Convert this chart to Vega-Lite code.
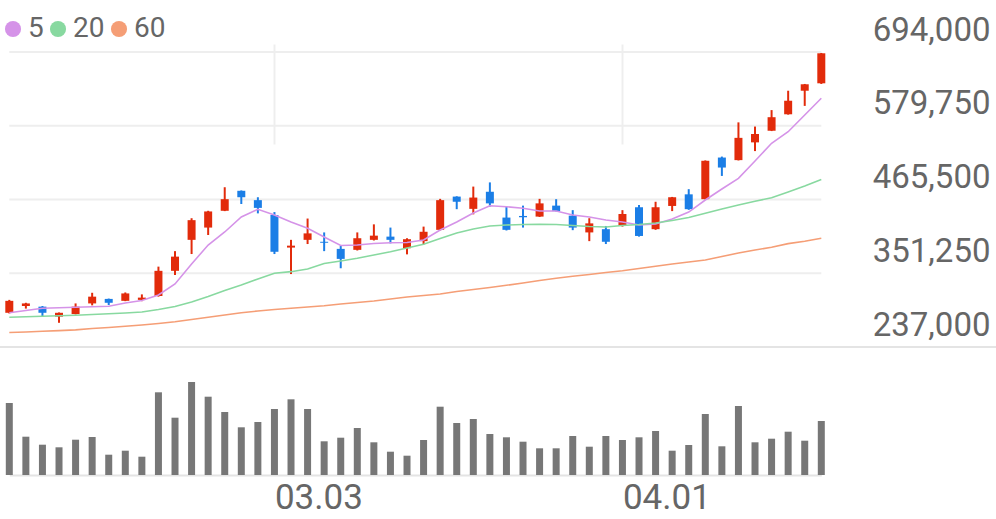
{
  "$schema": "https://vega.github.io/schema/vega-lite/v6.json",
  "width": 996,
  "height": 519,
  "autosize": {"type": "none"},
  "padding": 0,
  "background": "white",
  "config": {
    "view": {"stroke": null},
    "font": "Roboto"
  },
  "datasets": {
    "candles": [
      {"date": "02.03", "open": 290000, "high": 310000, "low": 289000, "close": 308500, "volume": 720000, "ma5": 290100, "ma20": 283000, "ma60": 259500},
      {"date": "02.04", "open": 300500, "high": 305500, "low": 296500, "close": 304500, "volume": 383000, "ma5": 293500, "ma20": 283800, "ma60": 260200},
      {"date": "02.05", "open": 299500, "high": 300500, "low": 285000, "close": 290000, "volume": 303000, "ma5": 297000, "ma20": 284600, "ma60": 261300},
      {"date": "02.06", "open": 284000, "high": 290500, "low": 274500, "close": 290000, "volume": 277000, "ma5": 297700, "ma20": 285300, "ma60": 262300},
      {"date": "02.09", "open": 288000, "high": 304500, "low": 287500, "close": 299500, "volume": 353000, "ma5": 298500, "ma20": 286100, "ma60": 263600},
      {"date": "02.10", "open": 304500, "high": 321000, "low": 301500, "close": 315000, "volume": 380000, "ma5": 299300, "ma20": 287300, "ma60": 265700},
      {"date": "02.11", "open": 311500, "high": 312000, "low": 302000, "close": 305500, "volume": 203000, "ma5": 300200, "ma20": 288400, "ma60": 267200},
      {"date": "02.12", "open": 308500, "high": 321500, "low": 308000, "close": 320000, "volume": 243000, "ma5": 305200, "ma20": 289700, "ma60": 269100},
      {"date": "02.13", "open": 310000, "high": 318500, "low": 308000, "close": 313500, "volume": 183000, "ma5": 309000, "ma20": 291200, "ma60": 271100},
      {"date": "02.19", "open": 316000, "high": 361500, "low": 315000, "close": 355000, "volume": 827000, "ma5": 317600, "ma20": 295100, "ma60": 273400},
      {"date": "02.20", "open": 355000, "high": 385500, "low": 348500, "close": 377000, "volume": 573000, "ma5": 334600, "ma20": 299700, "ma60": 276000},
      {"date": "02.23", "open": 403000, "high": 436500, "low": 381000, "close": 433500, "volume": 930000, "ma5": 365600, "ma20": 306700, "ma60": 279600},
      {"date": "02.24", "open": 422000, "high": 448000, "low": 410500, "close": 447000, "volume": 783000, "ma5": 395000, "ma20": 315200, "ma60": 283000},
      {"date": "02.25", "open": 448000, "high": 484500, "low": 447500, "close": 466000, "volume": 630000, "ma5": 415200, "ma20": 324500, "ma60": 286600},
      {"date": "02.26", "open": 479000, "high": 479500, "low": 458500, "close": 469000, "volume": 477000, "ma5": 438400, "ma20": 333000, "ma60": 290000},
      {"date": "02.27", "open": 464500, "high": 469000, "low": 444000, "close": 452500, "volume": 530000, "ma5": 450300, "ma20": 342300, "ma60": 292800},
      {"date": "03.03", "open": 441500, "high": 446000, "low": 381000, "close": 384500, "volume": 660000, "ma5": 441500, "ma20": 351200, "ma60": 295100},
      {"date": "03.04", "open": 391000, "high": 403000, "low": 350000, "close": 394000, "volume": 757000, "ma5": 430600, "ma20": 353700, "ma60": 297100},
      {"date": "03.05", "open": 403000, "high": 436000, "low": 396500, "close": 413000, "volume": 660000, "ma5": 420900, "ma20": 357800, "ma60": 299000},
      {"date": "03.06", "open": 400000, "high": 414500, "low": 385500, "close": 398500, "volume": 337000, "ma5": 407400, "ma20": 366400, "ma60": 300800},
      {"date": "03.09", "open": 389000, "high": 394000, "low": 359000, "close": 373500, "volume": 373000, "ma5": 394200, "ma20": 370200, "ma60": 303600},
      {"date": "03.10", "open": 387500, "high": 414500, "low": 386500, "close": 405500, "volume": 470000, "ma5": 395000, "ma20": 374400, "ma60": 305900},
      {"date": "03.11", "open": 403000, "high": 427000, "low": 402000, "close": 409500, "volume": 327000, "ma5": 397300, "ma20": 379500, "ma60": 308300},
      {"date": "03.12", "open": 408000, "high": 422000, "low": 397500, "close": 403000, "volume": 233000, "ma5": 398600, "ma20": 384600, "ma60": 311400},
      {"date": "03.13", "open": 390000, "high": 405500, "low": 380500, "close": 404000, "volume": 193000, "ma5": 398900, "ma20": 390400, "ma60": 314500},
      {"date": "03.16", "open": 401000, "high": 423500, "low": 396000, "close": 415500, "volume": 350000, "ma5": 402800, "ma20": 396100, "ma60": 316800},
      {"date": "03.17", "open": 418500, "high": 466500, "low": 417500, "close": 464500, "volume": 683000, "ma5": 418300, "ma20": 405100, "ma60": 319100},
      {"date": "03.18", "open": 470000, "high": 470500, "low": 450500, "close": 462000, "volume": 520000, "ma5": 430600, "ma20": 413600, "ma60": 323000},
      {"date": "03.19", "open": 451000, "high": 485500, "low": 442500, "close": 468500, "volume": 560000, "ma5": 444600, "ma20": 419800, "ma60": 326100},
      {"date": "03.20", "open": 477500, "high": 492000, "low": 454500, "close": 459500, "volume": 410000, "ma5": 455900, "ma20": 424400, "ma60": 329200},
      {"date": "03.23", "open": 437500, "high": 454500, "low": 417500, "close": 418500, "volume": 377000, "ma5": 454300, "ma20": 426000, "ma60": 332600},
      {"date": "03.24", "open": 440000, "high": 456000, "low": 422000, "close": 438000, "volume": 333000, "ma5": 451900, "ma20": 426800, "ma60": 336100},
      {"date": "03.25", "open": 439000, "high": 466500, "low": 438500, "close": 459500, "volume": 267000, "ma5": 447700, "ma20": 427100, "ma60": 340000},
      {"date": "03.26", "open": 456000, "high": 466000, "low": 447000, "close": 447500, "volume": 267000, "ma5": 447700, "ma20": 426800, "ma60": 343400},
      {"date": "03.27", "open": 440500, "high": 449000, "low": 418000, "close": 422000, "volume": 390000, "ma5": 441500, "ma20": 425200, "ma60": 346500},
      {"date": "03.30", "open": 414500, "high": 436500, "low": 401000, "close": 428500, "volume": 283000, "ma5": 438400, "ma20": 423700, "ma60": 349300},
      {"date": "03.31", "open": 419500, "high": 424500, "low": 396500, "close": 400000, "volume": 390000, "ma5": 433700, "ma20": 422900, "ma60": 352400},
      {"date": "04.01", "open": 424500, "high": 449000, "low": 423500, "close": 443000, "volume": 350000, "ma5": 430600, "ma20": 425200, "ma60": 355200},
      {"date": "04.02", "open": 453500, "high": 457000, "low": 408000, "close": 409000, "volume": 377000, "ma5": 426000, "ma20": 426800, "ma60": 358600},
      {"date": "04.03", "open": 419500, "high": 462000, "low": 418500, "close": 453500, "volume": 440000, "ma5": 427500, "ma20": 429100, "ma60": 362000},
      {"date": "04.06", "open": 455500, "high": 469500, "low": 447500, "close": 469000, "volume": 243000, "ma5": 435300, "ma20": 433000, "ma60": 365600},
      {"date": "04.07", "open": 473500, "high": 481500, "low": 449500, "close": 450500, "volume": 300000, "ma5": 446100, "ma20": 437600, "ma60": 368700},
      {"date": "04.08", "open": 466000, "high": 526000, "low": 465500, "close": 525500, "volume": 610000, "ma5": 464700, "ma20": 444100, "ma60": 371800},
      {"date": "04.09", "open": 530500, "high": 532000, "low": 502000, "close": 515000, "volume": 287000, "ma5": 481800, "ma20": 450800, "ma60": 377200},
      {"date": "04.10", "open": 526500, "high": 585000, "low": 526000, "close": 561000, "volume": 690000, "ma5": 498300, "ma20": 457000, "ma60": 382600},
      {"date": "04.13", "open": 554000, "high": 578500, "low": 540500, "close": 567000, "volume": 327000, "ma5": 525100, "ma20": 462700, "ma60": 387300},
      {"date": "04.14", "open": 572000, "high": 604000, "low": 571500, "close": 593000, "volume": 363000, "ma5": 552600, "ma20": 468300, "ma60": 391500},
      {"date": "04.15", "open": 597500, "high": 634000, "low": 597000, "close": 618500, "volume": 433000, "ma5": 570500, "ma20": 477100, "ma60": 397100},
      {"date": "04.16", "open": 634000, "high": 644500, "low": 610500, "close": 644000, "volume": 343000, "ma5": 596400, "ma20": 486400, "ma60": 400700},
      {"date": "04.17", "open": 645500, "high": 692500, "low": 644500, "close": 692000, "volume": 540000, "ma5": 622300, "ma20": 496500, "ma60": 405400}
    ],
    "grid": [
      {"level": 351250, "from": "02.03", "to": "04.17"},
      {"level": 465500, "from": "02.03", "to": "04.17"},
      {"level": 579750, "from": "02.03", "to": "04.17"},
      {"level": 694000, "from": "02.03", "to": "04.17"}
    ],
    "base": [{"level": 237000}]
  },
  "layer": [
    {
      "data": {"name": "candles"},
      "mark": {"type": "bar", "color": "#777777", "size": 7},
      "encoding": {
        "x": {
          "field": "date", "type": "ordinal",
          "scale": {"type": "point", "range": [9.3, 821.3], "padding": 0},
          "axis": {
            "values": ["03.03", "04.01"],
            "title": null,
            "ticks": false,
            "offset": -44,
            "domainColor": "#e4e4e4",
            "domainWidth": 2,
            "grid": true,
            "gridColor": "#eeeeee",
            "gridWidth": 2,
            "labelAngle": 0,
            "labelAlign": "left",
            "labelBaseline": "top",
            "labelPadding": 5,
            "labelFontSize": 35,
            "labelFont": "Roboto",
            "labelColor": "#666666"
          }
        },
        "y": {
          "field": "volume", "type": "quantitative",
          "scale": {"domain": [0, 1000000], "range": [475, 375], "nice": false, "zero": true},
          "axis": null
        }
      }
    },
    {
      "data": {"name": "grid"},
      "mark": {"type": "rule", "color": "#eeeeee", "strokeWidth": 2},
      "encoding": {
        "x": {"field": "from", "type": "ordinal", "scale": {"type": "point", "range": [9.3, 821.3], "padding": 0}},
        "x2": {"field": "to"},
        "y": {"field": "level", "type": "quantitative", "scale": {"domain": [237000, 694000], "range": [347, 52], "nice": false, "zero": false}, "axis": null}
      }
    },
    {
      "data": {"name": "base"},
      "mark": {"type": "rule", "color": "#e4e4e4", "strokeWidth": 2},
      "encoding": {
        "y": {
          "field": "level", "type": "quantitative",
          "scale": {"domain": [237000, 694000], "range": [347, 52], "nice": false, "zero": false},
          "axis": {
            "orient": "right",
            "values": [237000, 351250, 465500, 579750, 694000],
            "format": ",.0f",
            "title": null,
            "ticks": false,
            "domain": false,
            "grid": false,
            "labelAlign": "right",
            "labelBaseline": "alphabetic",
            "labelPadding": -6,
            "labelOffset": -12,
            "labelFontSize": 33,
            "labelFont": "Roboto",
            "labelColor": "#666666",
            "labelOverlap": false,
            "labelFlush": false,
            "labelBound": false
          }
        }
      }
    },
    {
      "data": {"name": "candles"},
      "mark": {"type": "rule", "strokeWidth": 2},
      "encoding": {
        "x": {"field": "date", "type": "ordinal", "scale": {"type": "point", "range": [9.3, 821.3], "padding": 0}},
        "y": {"field": "low", "type": "quantitative", "scale": {"domain": [237000, 694000], "range": [347, 52], "nice": false, "zero": false}, "axis": null},
        "y2": {"field": "high"},
        "color": {"condition": {"test": "datum.close >= datum.open", "value": "#e22b0b"}, "value": "#1b7ee6"}
      }
    },
    {
      "data": {"name": "candles"},
      "mark": {"type": "bar", "size": 8},
      "encoding": {
        "x": {"field": "date", "type": "ordinal", "scale": {"type": "point", "range": [9.3, 821.3], "padding": 0}},
        "y": {"field": "open", "type": "quantitative", "scale": {"domain": [237000, 694000], "range": [347, 52], "nice": false, "zero": false}, "axis": null},
        "y2": {"field": "close"},
        "color": {"condition": {"test": "datum.close >= datum.open", "value": "#e22b0b"}, "value": "#1b7ee6"}
      }
    },
    {
      "data": {"name": "candles"},
      "transform": [{"fold": ["ma5", "ma20", "ma60"], "as": ["ma", "value"]}],
      "mark": {"type": "line", "strokeWidth": 1.6},
      "encoding": {
        "x": {"field": "date", "type": "ordinal", "scale": {"type": "point", "range": [9.3, 821.3], "padding": 0}},
        "y": {"field": "value", "type": "quantitative", "scale": {"domain": [237000, 694000], "range": [347, 52], "nice": false, "zero": false}, "axis": null},
        "color": {
          "field": "ma", "type": "nominal",
          "scale": {"domain": ["ma5", "ma20", "ma60"], "range": ["#d593e8", "#88d9a0", "#f59e76"]},
          "legend": {
            "orient": "none",
            "legendX": -1,
            "legendY": 15,
            "direction": "horizontal",
            "title": null,
            "symbolType": "circle",
            "symbolSize": 200,
            "symbolStrokeWidth": 0,
            "symbolOpacity": 1,
            "labelExpr": "replace(datum.label, 'ma', '')",
            "labelFontSize": 28,
            "labelColor": "#666666",
            "labelOffset": 1,
            "columnPadding": -2,
            "padding": 0,
            "encode": {
              "symbols": {
                "update": {
                  "fill": {"scale": "color", "field": "value"},
                  "fillOpacity": {"value": 1},
                  "strokeWidth": {"value": 0},
                  "size": {"value": 260}
                }
              }
            }
          }
        }
      }
    }
  ],
  "resolve": {"scale": {"y": "independent"}, "axis": {"y": "independent"}}
}
